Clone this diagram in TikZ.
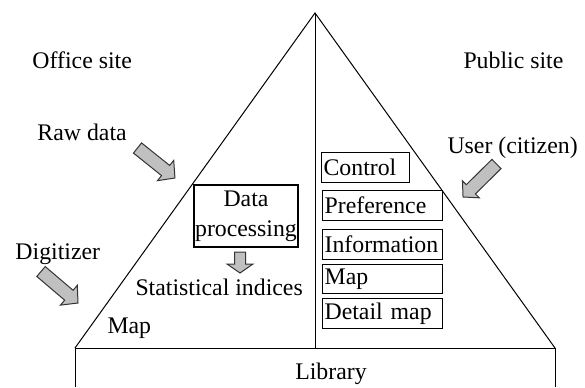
\documentclass[tikz,border=0pt]{standalone}
\usepackage{fontspec}
\setmainfont{Liberation Serif}
\definecolor{arrowgray}{HTML}{C0C0C0}
\tikzset{
  lbl/.style={anchor=base west, inner sep=0pt},
  rbox/.style={draw, line width=0.6pt, anchor=north west, inner xsep=1pt, inner ysep=0pt,
    minimum height=15pt, align=left},
  pbox/.style={draw, line width=0.6pt, align=center, minimum width=52pt, minimum height=31pt, inner sep=0pt},
  pics/blockarrow/.style n args={4}{code={
    \draw[fill=arrowgray, draw=black!80, line width=0.5pt, line join=miter]
      (0,-#2) -- (#1-#4,-#2) -- (#1-#4,-#3) -- (#1,0) -- (#1-#4,#3) -- (#1-#4,#2) -- (0,#2) -- cycle;}}
}
\begin{document}
\begin{tikzpicture}[x=0.5pt, y=-0.5pt, line width=0.5pt,
  every node/.style={font=\fontsize{11.9}{15}\selectfont}]
\useasboundingbox (0,0) rectangle (585,387);
% frame coordinates
\coordinate (apex) at (315,13);
\coordinate (bl) at (75,348);
\coordinate (br) at (555,348);
\coordinate (bm) at (315,348);
\coordinate (libl) at (75,387);
\coordinate (libr) at (555,387);
% pyramid
\draw (bl) -- (apex) -- (br);
\draw (apex) -- (bm);
% library
\draw (libl) -- (bl) -- (br) -- (libr);
\node[anchor=base, inner sep=0pt] (library) at (331,379) {Library};
% labels
\node[lbl] (office) at (32,68) {Office site};
\node[lbl] (public) at (463,68) {Public site};
\node[lbl] (raw) at (37,140) {Raw data};
\node[lbl] (user) at (447,153) {User (citizen)};
\node[lbl] (digit) at (15,259) {Digitizer};
\node[lbl] (mapl) at (107,333) {Map};
\node[lbl] (stat) at (135,295) {Statistical indices};
% data processing
\node[pbox] (proc) at (246,216) {Data\\processing};
% right boxes
\node[rbox, text width=42pt] (control) at (321,152) {Control};
\node[rbox, text width=58pt] (pref) at (322,190) {Preference};
\node[rbox, text width=58pt] (info) at (322,229) {Information};
\node[rbox, text width=58pt, minimum height=14.5pt] (mapr) at (322,264) {Map};
\node[rbox, text width=58pt] (detail) at (322,298) {Detail map};
% block arrows
\pic[rotate=-38.7] at (137.5,148) {blockarrow={48}{6.5}{13}{12}};
\pic[rotate=-40.4] at (41,271.5) {blockarrow={48.6}{6.5}{13}{12}};
\pic[rotate=-135.4] at (496.5,164) {blockarrow={47}{6.5}{12}{11}};
\pic[rotate=-90] at (240,252) {blockarrow={21}{5.5}{13}{9}};
\end{tikzpicture}
\end{document}
